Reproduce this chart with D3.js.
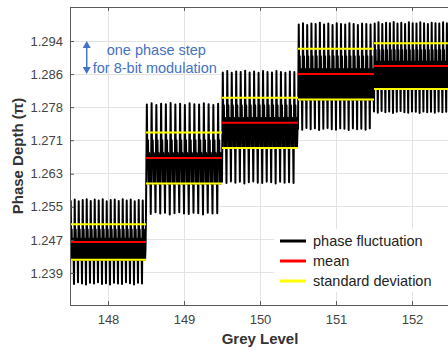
<!DOCTYPE html>
<html><head><meta charset="utf-8">
<script src="https://cdn.jsdelivr.net/npm/d3@7"></script>
<style>html,body{margin:0;padding:0;background:#fff;overflow:hidden}</style>
</head><body>
<svg id="chart" width="448" height="350"></svg>
<script>
// ---- data ----
const greyLevels = [148, 149, 150, 151, 152];
const meanValues = [1.2466, 1.2664, 1.2747, 1.2862, 1.2881];
const stdValues  = [0.0042, 0.0060, 0.0059, 0.0060, 0.0054];

const peaks148   = [1.2563,1.2566,1.2562,1.2565,1.2567,1.2563,1.2566,1.2564,1.2567,1.2562,1.2565,1.2566,1.2563,1.2567,1.2564,1.2566,1.2562,1.2565,1.2564];
const troughs148 = [1.2370,1.2367,1.2371,1.2368,1.2366,1.2370,1.2368,1.2371,1.2367,1.2369,1.2366,1.2370,1.2368,1.2367,1.2371,1.2369,1.2366,1.2370,1.2368];
const peaks149   = [1.2790,1.2793,1.2789,1.2792,1.2791,1.2794,1.2790,1.2792,1.2789,1.2793,1.2791,1.2790,1.2793,1.2791,1.2789,1.2792];
const troughs149 = [1.2535,1.2532,1.2536,1.2533,1.2535,1.2531,1.2534,1.2536,1.2533,1.2532,1.2535,1.2534,1.2531,1.2535,1.2533,1.2534];
const peaks150   = [1.2866,1.2869,1.2865,1.2868,1.2867,1.2870,1.2866,1.2868,1.2865,1.2869,1.2867,1.2866,1.2869,1.2867,1.2865,1.2868,1.2867];
const troughs150 = [1.2608,1.2605,1.2609,1.2606,1.2608,1.2604,1.2607,1.2609,1.2606,1.2605,1.2608,1.2607,1.2604,1.2608,1.2606,1.2607,1.2605];
const peaks151   = [1.2979,1.2982,1.2978,1.2981,1.2980,1.2983,1.2979,1.2981,1.2978,1.2982,1.2980,1.2979,1.2982,1.2980,1.2978,1.2981,1.2980,1.2979];
const troughs151 = [1.2734,1.2731,1.2735,1.2732,1.2734,1.2730,1.2733,1.2735,1.2732,1.2731,1.2734,1.2733,1.2730,1.2734,1.2732,1.2733,1.2731,1.2734];
const peaks152   = [1.2981,1.2984,1.2980,1.2983,1.2982,1.2985,1.2981,1.2983,1.2980,1.2984,1.2982,1.2981,1.2984,1.2982,1.2980,1.2983,1.2982,1.2981,1.2984,1.2982];
const troughs152 = [1.2774,1.2771,1.2775,1.2772,1.2774,1.2770,1.2773,1.2775,1.2772,1.2771,1.2774,1.2773,1.2770,1.2774,1.2772,1.2773,1.2771,1.2774,1.2772,1.2773];

const xTickValues = [148, 149, 150, 151, 152];
const yTickValues = [1.2393, 1.2471, 1.2549, 1.2627, 1.2706, 1.2784, 1.2862, 1.2940];
const yTickLabels = ["1.239", "1.247", "1.255", "1.263", "1.271", "1.278", "1.286", "1.294"];
const legendLabels = ["phase fluctuation", "mean", "standard deviation"];
const legendColors = ["#000000", "#ff0000", "#ffff00"];

const peaksAll = [peaks148, peaks149, peaks150, peaks151, peaks152];
const troughsAll = [troughs148, troughs149, troughs150, troughs151, troughs152];

(function () {
// ---- layout ----
const svg = d3.select("#chart");
const pL = 70, pR = 450, pT = 7, pB = 305;
const x = d3.scaleLinear().domain([147.5, 152.5]).range([pL, pR]);
const y = d3.scaleLinear().domain([1.23175, 1.30202]).range([pB, pT]);
const axisColor = "#5a5a5a";
const font = "'Liberation Sans', Arial, sans-serif";

svg.append("defs").append("clipPath").attr("id", "clip")
  .append("rect").attr("x", pL).attr("y", pT).attr("width", pR - pL).attr("height", pB - pT);

// grid
const grid = svg.append("g");
grid.selectAll(".gx").data(xTickValues).enter().append("line")
  .attr("x1", d => x(d)).attr("x2", d => x(d)).attr("y1", pT).attr("y2", pB)
  .attr("stroke", "#e3e3e3").attr("stroke-width", 1).attr("shape-rendering", "crispEdges");
grid.selectAll(".gy").data(yTickValues).enter().append("line")
  .attr("x1", pL).attr("x2", pR).attr("y1", d => y(d)).attr("y2", d => y(d))
  .attr("stroke", "#e3e3e3").attr("stroke-width", 1).attr("shape-rendering", "crispEdges");

// fluctuation path
const pts = [];
greyLevels.forEach((lv, k) => {
  const pk = peaksAll[k], tr = troughsAll[k], n = pk.length;
  const m = meanValues[k], s = stdValues[k];
  for (let i = 0; i < n; i++) {
    const x0 = lv - 0.5 + i / n, dx = 1 / n;
    pts.push([x0, tr[i]]);
    pts.push([x0 + 0.18 * dx, pk[i]]);
    pts.push([x0 + 0.3 * dx, m - 0.2 * s]);
    pts.push([x0 + 0.42 * dx, m + 0.7 * s]);
    pts.push([x0 + 0.54 * dx, m - s]);
    pts.push([x0 + 0.66 * dx, m + 0.2 * s]);
    pts.push([x0 + 0.78 * dx, m - s]);
    pts.push([x0 + 0.88 * dx, m - 0.3 * s]);
  }
});
const plot = svg.append("g").attr("clip-path", "url(#clip)");
plot.append("path")
  .attr("d", d3.line().x(d => x(d[0])).y(d => y(d[1]))(pts))
  .attr("fill", "none").attr("stroke", "#000").attr("stroke-width", 2)
  .attr("stroke-linejoin", "round").attr("stroke-linecap", "round");

// std lines
greyLevels.forEach((lv, k) => {
  [meanValues[k] + stdValues[k], meanValues[k] - stdValues[k]].forEach(v => {
    plot.append("line").attr("x1", x(lv - 0.5)).attr("x2", x(lv + 0.5))
      .attr("y1", y(v)).attr("y2", y(v)).attr("stroke", "#ffff00").attr("stroke-width", 2);
  });
});
// mean lines
plot.selectAll(".mean").data(greyLevels).enter().append("line")
  .attr("x1", d => x(d - 0.5)).attr("x2", d => x(d + 0.5))
  .attr("y1", (d, i) => y(meanValues[i])).attr("y2", (d, i) => y(meanValues[i]))
  .attr("stroke", "#ff0000").attr("stroke-width", 2);

// axes
const xAxis = d3.axisBottom(x).tickValues(xTickValues).tickFormat(d3.format("d")).tickSize(-4).tickPadding(10);
const gx = svg.append("g").attr("transform", `translate(0,${pB})`).call(xAxis);
const yAxis = d3.axisLeft(y).tickValues(yTickValues).tickFormat((d, i) => yTickLabels[i]).tickSize(-4).tickPadding(7);
const gy = svg.append("g").attr("transform", `translate(${pL},0)`).call(yAxis);
const xTop = d3.axisTop(x).tickValues(xTickValues).tickFormat("").tickSize(-4);
const gt = svg.append("g").attr("transform", `translate(0,${pT})`).call(xTop);
[gx, gy, gt].forEach(g => {
  g.select(".domain").attr("stroke", axisColor).attr("stroke-width", 1);
  g.selectAll(".tick line").attr("stroke", axisColor);
  g.selectAll("text").attr("fill", "#444").style("font-family", font).style("font-size", "13px");
});

// axis titles
svg.append("text").attr("x", x(150)).attr("y", 344).attr("text-anchor", "middle")
  .style("font-family", font).style("font-size", "15px").style("font-weight", "bold").attr("fill", "#333")
  .text("Grey Level");
svg.append("text").attr("transform", `translate(23,${(pT + pB) / 2}) rotate(-90)`).attr("text-anchor", "middle")
  .style("font-family", font).style("font-size", "15px").style("font-weight", "bold").attr("fill", "#333")
  .text("Phase Depth (π)");

// annotation: one phase step
const blue = "#4472c4";
const ax = x(147.72);
const ya = y(yTickValues[7]), yb = y(yTickValues[6]);
svg.append("line").attr("x1", ax).attr("x2", ax).attr("y1", ya + 5).attr("y2", yb - 5)
  .attr("stroke", blue).attr("stroke-width", 1.5);
svg.append("path").attr("d", `M${ax - 4},${ya + 7} L${ax},${ya} L${ax + 4},${ya + 7} Z`).attr("fill", blue);
svg.append("path").attr("d", `M${ax - 4},${yb - 7} L${ax},${yb} L${ax + 4},${yb - 7} Z`).attr("fill", blue);
svg.append("text").attr("x", ax + 20).attr("y", ya + 14).attr("fill", blue)
  .style("font-family", font).style("font-size", "14.5px").text("one phase step");
svg.append("text").attr("x", ax + 6).attr("y", yb - 1).attr("fill", blue)
  .style("font-family", font).style("font-size", "14.5px").text("for 8-bit modulation");

// legend
const lg = svg.append("g");
lg.append("rect").attr("x", 274).attr("y", 229).attr("width", 180).attr("height", 63).attr("fill", "#fff");
legendLabels.forEach((lab, i) => {
  const yy = 241 + i * 20;
  lg.append("line").attr("x1", 280).attr("x2", 306).attr("y1", yy).attr("y2", yy)
    .attr("stroke", legendColors[i]).attr("stroke-width", 3);
  lg.append("text").attr("x", 313).attr("y", yy).attr("dy", "0.35em").attr("fill", "#222")
    .style("font-family", font).style("font-size", "14.5px").text(lab);
});
})();
</script>
</body></html>
